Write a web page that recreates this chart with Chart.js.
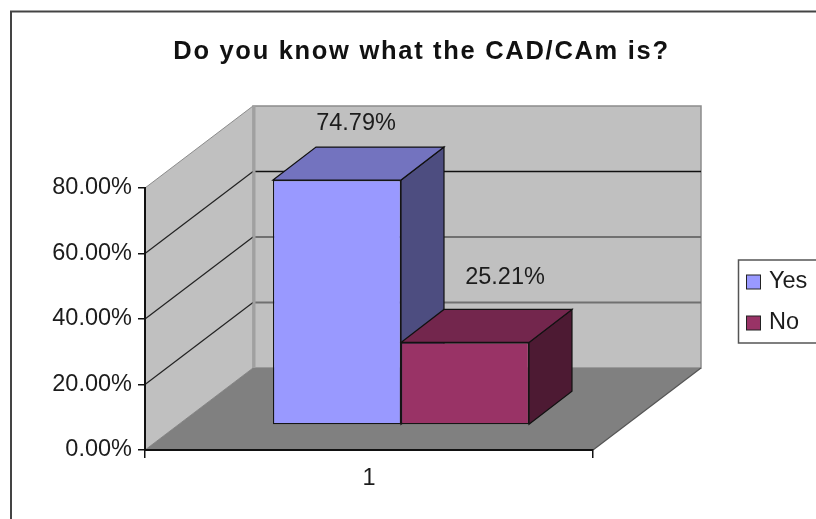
<!DOCTYPE html>
<html>
<head>
<meta charset="utf-8">
<title>CAD/CAm</title>
<script src="https://cdn.jsdelivr.net/npm/chart.js@4"></script>
<style>
  body { margin: 0; background: #fff; overflow: hidden; }
  canvas { display: block; }
</style>
</head>
<body>
<canvas id="cadChart" width="816" height="519"></canvas>
<script>
// Chart data
const categories = ["1"];
const seriesNames = ["Yes", "No"];
const yesValues = [74.79];
const noValues = [25.21];
const tickStep = 20;
const axisMax = 80;

// Colours per series: front, top, side
const frontColors = ["#9999ff", "#993366"];
const topColors = ["#7373bf", "#73264d"];
const sideColors = ["#4d4d80", "#4d1a33"];

const fontName = '"Liberation Sans", Arial, sans-serif';
const textColor = "#1c1c1c";
const textSize = 23.5;

// 3D look: how far the back wall and the bars are pushed
const wallDepth = { x: 108, y: -82 };
const barShift = { x: 32, y: -25 };
const barDepth = { x: 43, y: -33 };
// where the value label sits compared to the top of each bar
const labelShift = [{ x: 19, y: -57 }, { x: 40, y: -65 }];

function fillPoly(ctx, points, fill, stroke, width) {
  ctx.beginPath();
  points.forEach((p, i) => (i ? ctx.lineTo(p[0], p[1]) : ctx.moveTo(p[0], p[1])));
  ctx.closePath();
  ctx.fillStyle = fill;
  ctx.fill();
  if (stroke) {
    ctx.strokeStyle = stroke;
    ctx.lineWidth = width || 1;
    ctx.stroke();
  }
}

function line(ctx, x1, y1, x2, y2, color, width) {
  ctx.beginPath();
  ctx.moveTo(x1, y1);
  ctx.lineTo(x2, y2);
  ctx.strokeStyle = color;
  ctx.lineWidth = width;
  ctx.stroke();
}

const box3d = {
  id: "box3d",
  beforeDraw(chart) {
    const { ctx, chartArea: area, scales } = chart;
    const w = wallDepth;
    const y0 = scales.y.getPixelForValue(0);
    const yTop = scales.y.getPixelForValue(axisMax);

    // the title is the library's, it only needs wider letters and to sit further right
    if (!chart.titleBlock.spaced) {
      const title = chart.titleBlock;
      const drawTitle = title.draw;
      title.draw = function () {
        ctx.save();
        ctx.translate(125, 0);
        ctx.letterSpacing = "1.7px";
        drawTitle.call(title);
        ctx.restore();
      };
      title.spaced = true;
    }

    ctx.save();
    ctx.fillStyle = "#fff";
    ctx.fillRect(0, 0, chart.width, chart.height);

    // page frame, only left and top show
    ctx.beginPath();
    ctx.moveTo(11, chart.height);
    ctx.lineTo(11, 11.5);
    ctx.lineTo(chart.width, 11.5);
    ctx.strokeStyle = "#444";
    ctx.lineWidth = 2;
    ctx.stroke();

    // walls and floor
    fillPoly(ctx, [[area.left + w.x, yTop + w.y], [area.right + w.x, yTop + w.y],
      [area.right + w.x, y0 + w.y], [area.left + w.x, y0 + w.y]], "#c0c0c0", "#8c8c8c", 1.5);
    fillPoly(ctx, [[area.left, yTop], [area.left + w.x, yTop + w.y],
      [area.left + w.x, y0 + w.y], [area.left, y0]], "#c0c0c0", "#8c8c8c", 1);
    fillPoly(ctx, [[area.left, y0], [area.right, y0],
      [area.right + w.x, y0 + w.y], [area.left + w.x, y0 + w.y]], "#808080");
    line(ctx, area.right, y0, area.right + w.x, y0 + w.y, "#555", 1.2);

    // grid lines on both walls
    scales.y.ticks.forEach((t) => {
      if (t.value === 0 || t.value === axisMax) return;
      const y = scales.y.getPixelForValue(t.value);
      line(ctx, area.left, y, area.left + w.x, y + w.y, "#222", 1.2);
      line(ctx, area.left + w.x, y + w.y, area.right + w.x, y + w.y,
        t.value === 60 ? "#111" : "#707070", t.value === 60 ? 1.5 : 2);
    });
    // wall corner
    line(ctx, area.left + w.x + 1, yTop + w.y, area.left + w.x + 1, y0 + w.y, "#a0a0a0", 3);

    // legend
    ctx.beginPath();
    ctx.moveTo(chart.width, 260);
    ctx.lineTo(738.5, 260);
    ctx.lineTo(738.5, 343);
    ctx.lineTo(chart.width, 343);
    ctx.strokeStyle = "#555";
    ctx.lineWidth = 1.5;
    ctx.stroke();
    seriesNames.forEach((name, i) => {
      const yMid = 282 + i * 41;
      ctx.fillStyle = frontColors[i];
      ctx.fillRect(746.5, yMid - 7, 14, 14);
      ctx.strokeStyle = "#222";
      ctx.lineWidth = 1;
      ctx.strokeRect(746.5, yMid - 7, 14, 14);
      ctx.fillStyle = textColor;
      ctx.font = textSize + "px " + fontName;
      ctx.textAlign = "left";
      ctx.textBaseline = "middle";
      ctx.fillText(name, 769, yMid);
    });
    ctx.restore();
  },
  beforeDatasetsDraw(chart) {
    const { ctx } = chart;
    const d = barDepth;
    ctx.save();
    ctx.translate(barShift.x, barShift.y);
    seriesNames.forEach((name, i) => {
      const bar = chart.getDatasetMeta(i).data[0].getProps(["x", "y", "base", "width"], true);
      const left = bar.x - bar.width / 2;
      const right = bar.x + bar.width / 2;
      fillPoly(ctx, [[right, bar.y], [right + d.x, bar.y + d.y],
        [right + d.x, bar.base + d.y], [right, bar.base]], sideColors[i], "#111", 1.2);
      fillPoly(ctx, [[left, bar.y], [left + d.x, bar.y + d.y],
        [right + d.x, bar.y + d.y], [right, bar.y]], topColors[i], "#111", 1.2);
    });
  },
  afterDatasetsDraw(chart) {
    const { ctx } = chart;
    ctx.restore();

    // value labels
    ctx.save();
    ctx.font = textSize + "px " + fontName;
    ctx.fillStyle = textColor;
    ctx.textAlign = "center";
    ctx.textBaseline = "middle";
    chart.data.datasets.forEach((ds, i) => {
      const bar = chart.getDatasetMeta(i).data[0].getProps(["x", "y"], true);
      ctx.fillText(ds.data[0].toFixed(2) + "%",
        bar.x + barShift.x + labelShift[i].x, bar.y + barShift.y + labelShift[i].y);
    });
    ctx.restore();
  },
};

const cadChart = new Chart(document.getElementById("cadChart").getContext("2d"), {
  type: "bar",
  data: {
    labels: categories,
    datasets: [
      { label: seriesNames[0], data: yesValues, backgroundColor: frontColors[0] },
      { label: seriesNames[1], data: noValues, backgroundColor: frontColors[1] },
    ],
  },
  plugins: [box3d],
  options: {
    responsive: false,
    animation: false,
    devicePixelRatio: 1,
    layout: { padding: { right: 223 } },
    datasets: {
      bar: {
        barPercentage: 1,
        categoryPercentage: 0.5714,
        borderColor: "#151515",
        borderWidth: 1.2,
        borderSkipped: false,
      },
    },
    plugins: {
      legend: { display: false },
      tooltip: { enabled: false },
      title: {
        display: true,
        text: "Do you know what the CAD/CAm is?",
        color: "#111",
        font: { family: fontName, size: 25.5, weight: "bold" },
        padding: { top: 37, bottom: 120.4 },
      },
    },
    scales: {
      x: {
        offset: true,
        afterFit: (s) => { s.height = 69; },
        grid: { offset: true, drawOnChartArea: false, color: "#111", tickLength: 8, lineWidth: 1.5 },
        border: { color: "#111", width: 2 },
        ticks: { color: textColor, font: { family: fontName, size: textSize }, padding: 6 },
      },
      y: {
        min: 0,
        max: axisMax,
        afterFit: (s) => { s.width = 145; },
        grid: { drawOnChartArea: false, color: "#111", tickLength: 7, lineWidth: 1.5 },
        border: { color: "#111", width: 2 },
        ticks: {
          stepSize: tickStep,
          color: textColor,
          font: { family: fontName, size: textSize },
          padding: 6,
          callback: (v) => v.toFixed(2) + "%",
        },
      },
    },
  },
});
</script>
</body>
</html>
